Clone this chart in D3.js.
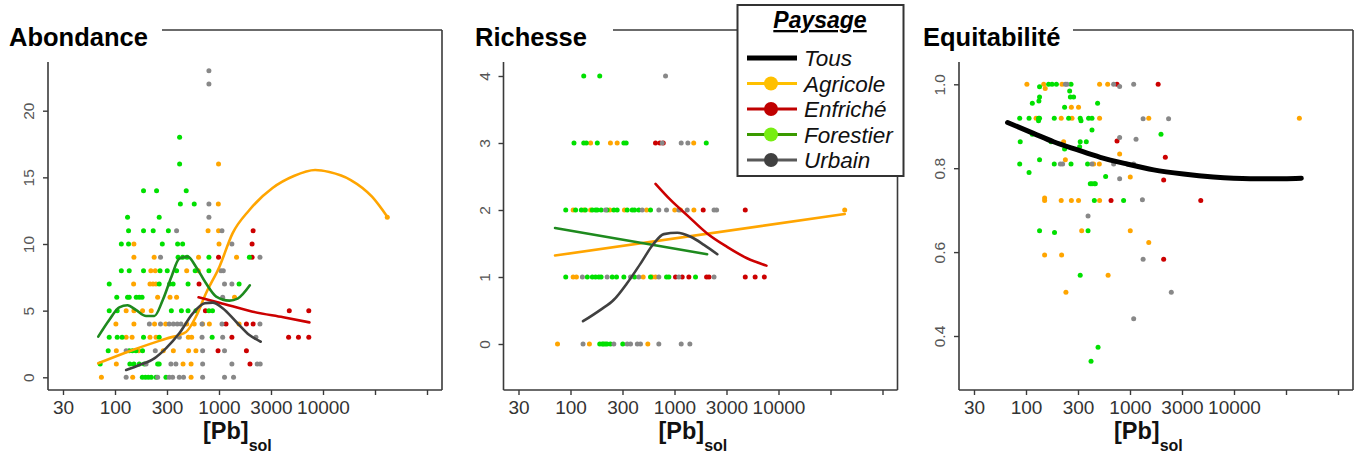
<!DOCTYPE html>
<html><head><meta charset="utf-8">
<script src="https://cdn.jsdelivr.net/npm/d3@7/dist/d3.min.js"></script>
<style>
html,body{margin:0;padding:0;background:#fff;}
svg{display:block;font-family:"Liberation Sans",Arial,sans-serif;}
</style></head>
<body>
<svg id="chart" width="1364" height="457"></svg>
<script>
// ---------- DATA ----------
const categories = ["Agricole","Enfriché","Forestier","Urbain"];
const xTickValues = [31.62, 100, 316.2, 1000, 3162, 10000, 31623, 100000];
const xTickLabels = ["30","100","300","1000","3000","10000","",""];
const abTicks = [0,5,10,15,20];
const riTicks = [0,1,2,3,4];
const eqTicks = [0.4,0.6,0.8,1.0];
const eqTickLabels = ["0.4","0.6","0.8","1.0"];

// Abondance points [Pb, value]
const abAgricole = [[990,16],[985,13],[41500,12],[785,11],[990,11],[152,10],[1000,10],[152,9],[238,9],[636,9],[1475,9],
 [221,8],[244,8],[489,8],[632,8],[151,7],[217,7],[232,7],[248,7],[257,6],[338,6],[391,6],[1410,6],
 [128,5],[152,5],[184,5],[223,5],[102,4],[152,4],[240,4],[307,4],[489,4],[578,4],[696,4],[808,4],[1560,4],
 [128,3],[146,3],[217,3],[248,3],[507,3],[546,3],[103,2],[169,2],[291,2],[364,2],[510,2],[600,2],
 [103,1],[451,1],[539,1],[74,0],[148,0],[539,0]];
const abEnfriche = [[2130,11],[2080,10],[990,9],[2080,9],[643,7],[740,5],[4740,5],[7300,5],[1168,4],[1835,4],[2130,4],
 [1330,3],[4670,3],[5810,3],[7300,3],[979,2],[1835,2],[1986,1]];
const abForestier = [[418,18],[418,16],[188,14],[251,14],[484,14],[425,13],[578,13],[132,12],[266,12],
 [135,11],[188,11],[233,11],[326,11],[115,10],[135,10],[285,10],[400,10],[447,10],
 [404,9],[447,9],[493,9],[800,9],[1960,9],[115,8],[137,8],[188,8],[271,8],[318,8],[391,8],[590,8],[800,8],
 [88,7],[266,7],[335,7],[362,7],[504,7],[1560,7],[104,6],[132,6],[137,6],[160,6],[171,6],[182,6],
 [88,5],[105,5],[348,5],[435,5],[504,5],[600,5],[800,5],[866,5],[88,3],[105,3],[117,3],[188,3],[266,3],[859,3],
 [86,2],[137,2],[147,2],[159,2],[184,2],[72,1],[139,1],[152,1],[171,1],[191,1],[257,1],[266,1],
 [183,0],[196,0],[209,0],[223,0],[248,0],[309,0]];
const abUrbain = [[800,23],[800,22],[800,13],[800,12],[391,11],[1068,11],[1330,10],[274,9],[2477,9],[1045,8],[1100,8],
 [1130,7],[1330,7],[1085,6],[214,4],[274,4],[332,4],[364,4],[397,4],[431,4],[687,4],[1068,4],[2477,4],
 [415,3],[687,3],[1085,3],[2264,3],[128,2],[244,2],[696,2],[1130,2],[199,1],[345,1],[385,1],[696,1],[1330,1],[2330,1],[2490,1],
 [128,0],[257,0],[332,0],[358,0],[415,0],[456,0],[696,0],[1130,0],[1380,0]];
// Abondance fitted curves [Pb, value]
const abCurveAgricole = [[69,1.05],[148,2.05],[309,2.9],[482,3.4],[600,4.55],[750,6.3],[1010,8.3],[1350,10.8],[1960,12.55],
 [3270,14.2],[5240,15.1],[8400,15.55],[11500,15.4],[18500,14.8],[29600,13.55],[41500,12.05]];
const abCurveEnfriche = [[636,6.0],[1010,5.6],[2110,4.92],[4150,4.5],[7400,4.12]];
const abCurveForestier = [[69,3.05],[88,4.3],[110,5.25],[132,5.4],[159,5.05],[199,4.6],[239,4.6],[288,5.8],[349,7.55],
 [415,8.9],[500,9.05],[600,8.3],[750,7.05],[940,6.05],[1260,5.75],[1510,5.9],[1980,6.9]];
const abCurveUrbain = [[128,0.55],[172,0.92],[239,1.42],[309,2.17],[415,3.3],[560,4.8],[730,5.55],[870,5.6],[1085,5.18],
 [1460,4.17],[1960,3.17],[2520,2.67]];

// Richesse points [Pb, value]
const riAgricole = [[156,3],[242,3],[281,3],[1530,3],[106,2],[134,2],[156,2],[239,2],[330,2],[539,2],[1006,2],[1143,2],[1536,2],[43300,2],
 [106,1],[114,1],[500,1],[610,1],[657,1],[75,0],[152,0],[554,0]];
const riEnfriche = [[657,3],[723,3],[780,3],[1888,2],[4790,2],[1023,1],[1186,1],[1374,1],[2035,1],[2146,1],[4790,1],[5960,1],[7300,1]];
const riForestier = [[134,4],[191,4],[108,3],[134,3],[142,3],[181,3],[326,3],[343,3],[2020,3],
 [90,2],[112,2],[127,2],[139,2],[162,2],[174,2],[181,2],[197,2],[225,2],[261,2],[281,2],[351,2],[392,2],[413,2],[454,2],[588,2],
 [90,1],[145,1],[162,1],[174,1],[187,1],[197,1],[252,1],[277,1],[326,1],[413,1],[588,1],[838,1],[883,1],[1592,1],
 [191,0],[202,0],[208,0],[217,0],[225,0],[242,0],[318,0]];
const riUrbain = [[820,4],[762,3],[1160,3],[1344,3],[217,2],[489,2],[707,2],[838,2],[1101,2],[1326,2],[2400,2],[2540,2],
 [130,1],[225,1],[378,1],[454,1],[707,1],[1101,1],[2400,1],[132,0],[261,0],[351,0],[378,0],[439,0],[471,0],[707,0],[1160,0],[1405,0]];
const riCurveAgricole = [[71,1.32],[43300,1.94]];
const riCurveEnfriche = [[657,2.39],[916,2.15],[1326,1.92],[2060,1.65],[3200,1.45],[4980,1.28],[7660,1.17]];
const riCurveForestier = [[71,1.73],[2060,1.34]];
const riCurveUrbain = [[132,0.34],[194,0.51],[261,0.66],[351,0.91],[471,1.2],[632,1.5],[790,1.64],[1063,1.66],[1430,1.6],[1920,1.48],[2580,1.34]];

// Equitabilité points [Pb, value]
const eqAgricole = [[102,1.0],[148,1.0],[222,1.0],[510,1.0],[610,1.0],[153,0.99],[273,0.945],[320,0.945],
 [125,0.919],[218,0.919],[277,0.919],[510,0.919],[1515,0.919],[42500,0.919],[230,0.863],[795,0.834],[239,0.82],
 [447,0.81],[507,0.81],[1006,0.779],[151,0.729],[151,0.723],[218,0.723],[273,0.723],[320,0.723],[510,0.723],
 [343,0.651],[1006,0.651],[1515,0.623],[151,0.593],[220,0.593],[616,0.545],[242,0.504]];
const eqEnfriche = [[750,1.0],[1865,1.0],[750,0.865],[2186,0.826],[2107,0.772],[657,0.723],[4790,0.723],[2107,0.583]];
const eqForestier = [[165,1.0],[178,1.0],[196,1.0],[271,1.0],[135,0.994],[263,0.984],[135,0.97],[267,0.97],[287,0.97],[133,0.96],
 [115,0.955],[488,0.955],[235,0.945],[87,0.919],[107,0.919],[132,0.919],[135,0.919],[187,0.919],[257,0.919],[332,0.919],[400,0.919],[431,0.919],
 [132,0.913],[338,0.913],[431,0.891],[115,0.881],[1986,0.881],[88,0.863],[174,0.863],[332,0.863],[380,0.863],[328,0.851],[235,0.846],
 [135,0.82],[87,0.81],[187,0.81],[271,0.81],[391,0.81],[107,0.79],[583,0.78],[415,0.763],[431,0.763],[454,0.763],[464,0.763],
 [454,0.723],[868,0.723],[135,0.651],[395,0.651],[188,0.647],[332,0.545],[493,0.373],[422,0.34]];
const eqUrbain = [[239,1.0],[248,1.0],[696,1.0],[1085,1.0],[795,0.995],[1337,0.918],[2350,0.918],[795,0.873],[1143,0.869],
 [214,0.81],[225,0.81],[431,0.81],[696,0.81],[1085,0.81],[795,0.775],[1316,0.725],[395,0.686],[1337,0.583],[2495,0.504],[1085,0.441]];
const eqCurveTous = [[66.5,0.909],[118,0.883],[184,0.863],[309,0.844],[518,0.826],[935,0.81],[1690,0.796],[3270,0.786],
 [6310,0.779],[14300,0.775],[30000,0.775],[44400,0.776]];

// ---------- STYLE ----------
const pointColor = {"Agricole":"#FFA500","Enfriché":"#CC0000","Forestier":"#00E000","Urbain":"#888888"};
const curveColor = {"Agricole":"#FFA500","Enfriché":"#CC0000","Forestier":"#1E8A1E","Urbain":"#404040","Tous":"#000000"};
const legendItems = [
  {name:"Tous", line:"#000000", dot:null, w:5},
  {name:"Agricole", line:"#FFC000", dot:"#FFC000", w:3},
  {name:"Enfriché", line:"#C00000", dot:"#C00000", w:3},
  {name:"Forestier", line:"#3A9A00", dot:"#77EE11", w:3},
  {name:"Urbain", line:"#595959", dot:"#404040", w:3}
];

const panels = [
  {title:"Abondance", L:48, titleX:9, topStart:162, yDom:[0,20], yRng:[377.3,110.7], ticks:abTicks, labels:abTicks.map(String),
   points:[abAgricole,abEnfriche,abForestier,abUrbain],
   curves:[["Agricole",abCurveAgricole],["Enfriché",abCurveEnfriche],["Forestier",abCurveForestier],["Urbain",abCurveUrbain]]},
  {title:"Richesse", L:503.5, titleX:475, topStart:613, yDom:[0,4], yRng:[344,76], ticks:riTicks, labels:riTicks.map(String),
   points:[riAgricole,riEnfriche,riForestier,riUrbain],
   curves:[["Agricole",riCurveAgricole],["Enfriché",riCurveEnfriche],["Forestier",riCurveForestier],["Urbain",riCurveUrbain]]},
  {title:"Equitabilité", L:959, titleX:923, topStart:1073, yDom:[0.4,1.0], yRng:[336,84.3], ticks:eqTicks, labels:eqTickLabels,
   points:[eqAgricole,eqEnfriche,eqForestier,eqUrbain],
   curves:[["Tous",eqCurveTous]]}
];

const svg = d3.select("#chart");
const PW = 394, TOP = 30, AXTOP = 62, BOT = 390;
const axisCol = "#3a3a3a";
const FONT = "'Liberation Sans', Arial, sans-serif";

panels.forEach(p => {
  const L = p.L, R = L + PW;
  const x = d3.scaleLog().domain([100,100000]).range([L+67, L+67+312]);
  const y = d3.scaleLinear().domain(p.yDom).range(p.yRng);
  const g = svg.append("g");

  // frame lines
  g.append("line").attr("x1",L).attr("x2",L).attr("y1",AXTOP).attr("y2",BOT).attr("stroke",axisCol).attr("stroke-width",1.6);
  g.append("line").attr("x1",L).attr("x2",R).attr("y1",BOT).attr("y2",BOT).attr("stroke",axisCol).attr("stroke-width",1.6);
  g.append("line").attr("x1",R).attr("x2",R).attr("y1",TOP).attr("y2",BOT).attr("stroke",axisCol).attr("stroke-width",1.6);
  g.append("line").attr("x1",p.topStart).attr("x2",R).attr("y1",TOP).attr("y2",TOP).attr("stroke",axisCol).attr("stroke-width",1.6);

  // title
  g.append("text").attr("x",p.titleX).attr("y",46).style("font-size","25.5px").style("font-weight","bold")
    .style("font-family",FONT).attr("fill","#000").text(p.title);

  // x axis
  const xa = g.append("g").attr("transform",`translate(0,${BOT})`)
    .call(d3.axisBottom(x).tickValues(xTickValues).tickFormat((d,i)=>xTickLabels[i]).tickSize(5).tickPadding(5.5));
  xa.select(".domain").remove();
  xa.selectAll("line").attr("stroke",axisCol).attr("stroke-width",1.4);
  xa.selectAll("text").style("font-size","19px").attr("fill","#333").style("font-family",FONT);

  // y axis
  const ya = g.append("g").attr("transform",`translate(${L},0)`)
    .call(d3.axisLeft(y).tickValues(p.ticks).tickFormat((d,i)=>p.labels[i]).tickSize(5));
  ya.select(".domain").remove();
  ya.selectAll("line").attr("stroke",axisCol).attr("stroke-width",1.4);
  ya.selectAll("text").attr("x",null).attr("dy",null).attr("text-anchor","middle")
    .attr("transform","translate(-14,0) rotate(-90)")
    .style("font-size","15.5px").attr("fill","#555").style("font-family",FONT);

  // x label
  const xl = g.append("text").attr("x",L+155).attr("y",438.5).style("font-weight","bold").style("font-size","23.5px")
    .style("font-family",FONT).attr("fill","#111");
  xl.append("tspan").text("[Pb]");
  xl.append("tspan").style("font-size","16px").attr("dy",12).text("sol");

  // points
  p.points.forEach((arr,ci) => {
    g.append("g").selectAll("circle").data(arr).join("circle")
      .attr("cx",d=>x(d[0])).attr("cy",d=>y(d[1])).attr("r",2.5)
      .attr("fill",pointColor[categories[ci]]);
  });

  // curves
  const line = d3.line().x(d=>x(d[0])).y(d=>y(d[1])).curve(d3.curveMonotoneX);
  p.curves.forEach(([name,arr]) => {
    g.append("path").datum(arr).attr("d",line).attr("fill","none")
      .attr("stroke",curveColor[name]).attr("stroke-width",name==="Tous"?5:2.6)
      .attr("stroke-linecap","round");
  });
});

// legend
const lg = svg.append("g");
lg.append("rect").attr("x",737.5).attr("y",5).attr("width",166).attr("height",171)
  .attr("fill","#fff").attr("stroke","#333").attr("stroke-width",2);
lg.append("text").attr("x",820).attr("y",28).attr("text-anchor","middle").style("font-size","23px")
  .style("font-family",FONT).style("font-weight","bold").style("font-style","italic")
  .attr("text-decoration","underline").text("Paysage");
legendItems.forEach((it,i) => {
  const cy = 58 + i*25.5;
  lg.append("line").attr("x1",747).attr("x2",797).attr("y1",cy).attr("y2",cy)
    .attr("stroke",it.line).attr("stroke-width",it.w);
  if (it.dot) lg.append("circle").attr("cx",771).attr("cy",cy).attr("r",7).attr("fill",it.dot);
  lg.append("text").attr("x",804).attr("y",cy+8).style("font-size","22.5px").style("font-style","italic")
    .style("font-family",FONT).attr("fill","#111").text(it.name);
});
</script>
</body></html>
